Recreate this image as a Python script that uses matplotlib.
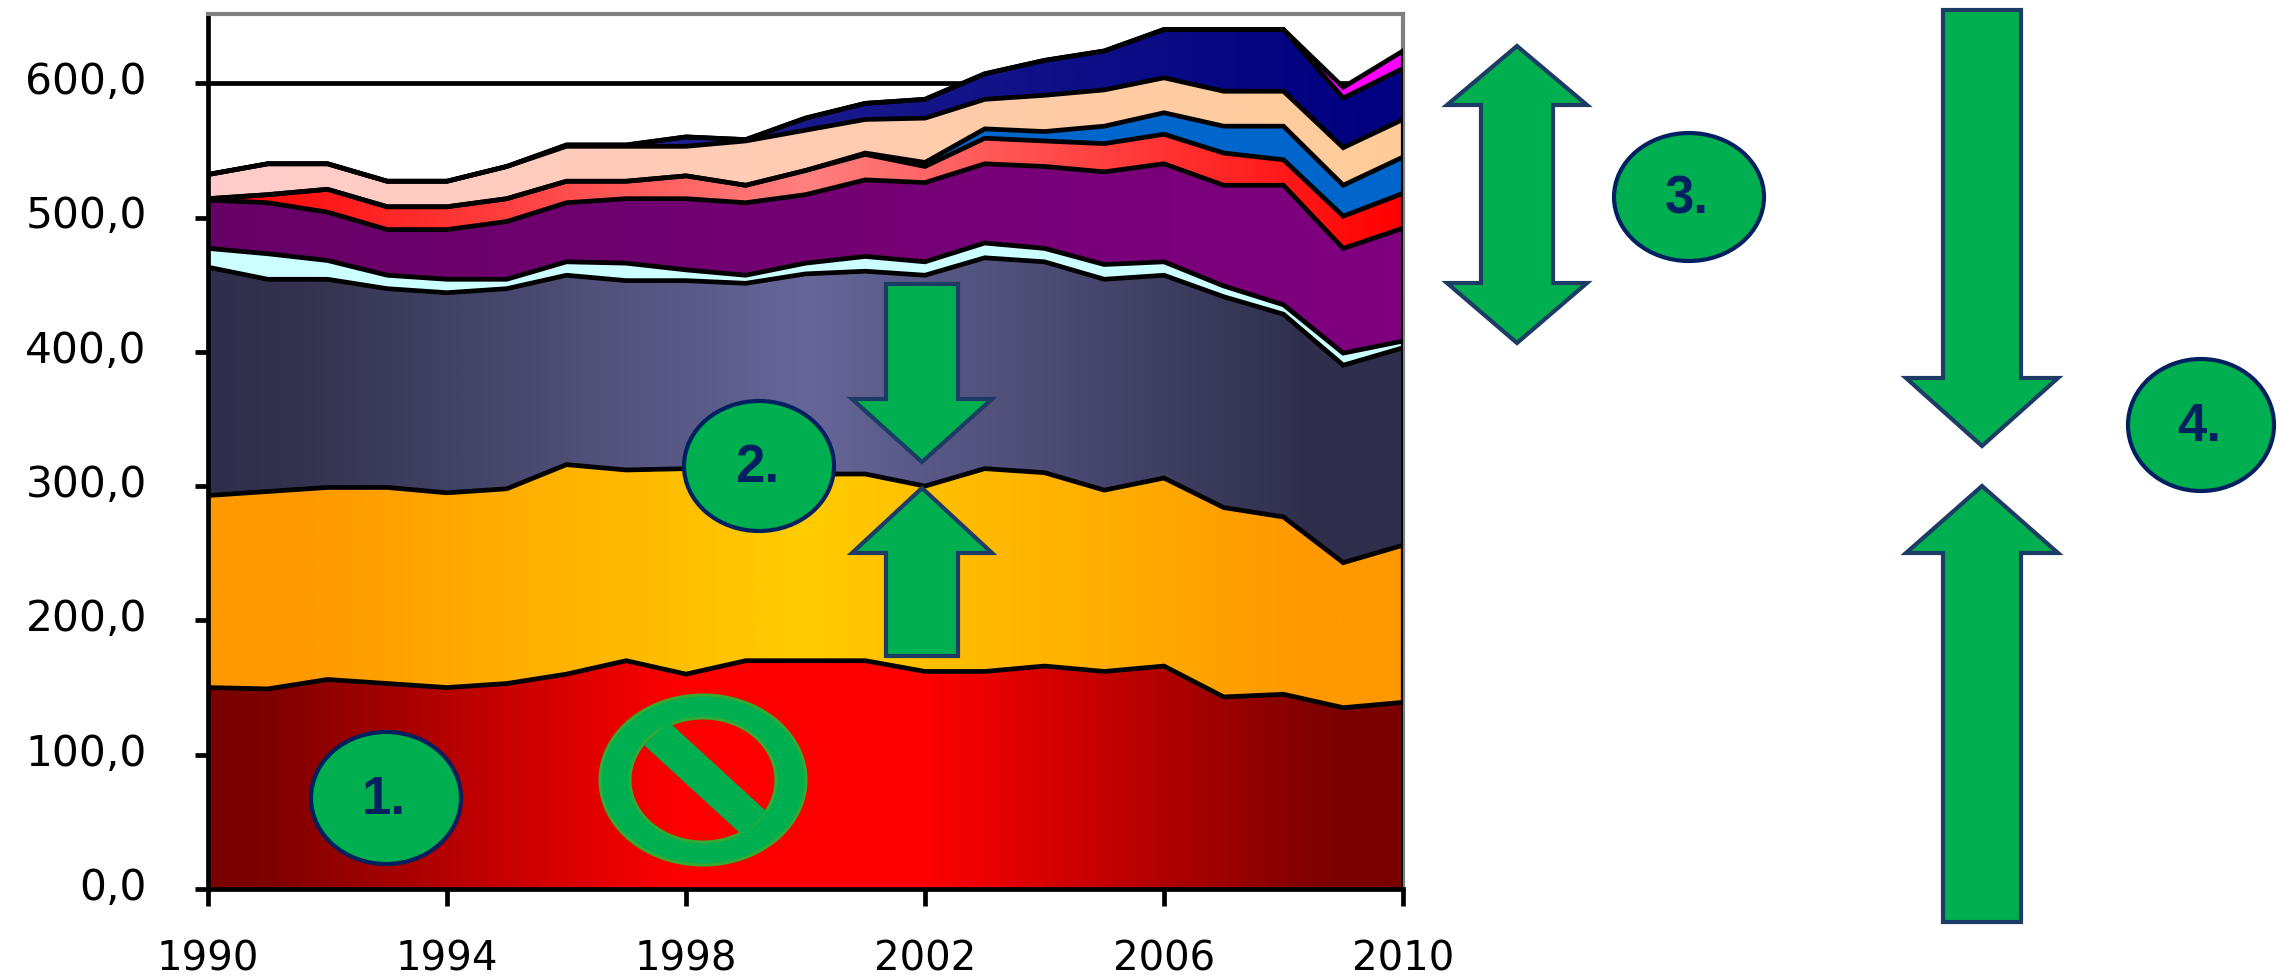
import numpy as np
import matplotlib
matplotlib.use("Agg")
import matplotlib.pyplot as plt
from matplotlib.colors import LinearSegmentedColormap
from matplotlib.patches import Ellipse, Polygon, PathPatch
from matplotlib.path import Path
from matplotlib.transforms import ScaledTranslation

years = list(range(1990, 2011))
year_ticks = [1990, 1994, 1998, 2002, 2006, 2010]
value_ticks = [0, 100, 200, 300, 400, 500, 600]

# upper boundary of every stacked band
top_red      = [150,149,156,153,150,153,160,170,160,170,170,170,162,162,166,162,166,143,145,135,139]
top_orange   = [293,296,299,299,295,298,316,312,313,310,309,309,300,313,310,297,306,284,277,243,256]
top_slate    = [463,454,454,447,444,447,457,453,453,451,458,460,457,470,467,454,457,441,428,390,403]
top_cyan     = [477,473,468,457,454,454,467,466,461,457,466,471,467,481,477,465,467,449,435,399,408]
top_purple   = [513,511,504,491,491,497,511,514,514,511,517,528,526,540,538,534,540,524,524,477,492]
top_scarlet  = [514,517,521,508,508,514,527,527,531,524,535,547,538,559,557,555,562,548,543,501,518]
top_blue     = [514,517,521,508,508,514,527,527,531,524,535,548,541,566,564,568,578,568,568,524,545]
top_peach    = [532,540,540,527,527,538,553,553,553,557,565,573,574,588,591,595,604,594,594,552,573]
top_navy     = [532,540,540,527,527,538,554,554,560,558,574,585,588,607,617,624,640,640,640,589,611]
top_magenta  = [532,540,540,527,527,538,554,554,560,558,574,585,588,607,617,624,640,640,640,597,624]

bands = [
    (top_red,     [(0, "#7a0000"), (0.05, "#7f0000"), (0.40, "#ff0000"), (0.60, "#ff0000"), (0.93, "#7f0000"), (1, "#7a0000")]),
    (top_orange,  [(0, "#ff9900"), (0.08, "#ff9900"), (0.5, "#ffcc00"), (0.92, "#ff9900"), (1, "#ff9900")]),
    (top_slate,   [(0, "#2f2f4d"), (0.08, "#33334f"), (0.5, "#666699"), (0.92, "#2f2f4d"), (1, "#2f2f4d")]),
    (top_cyan,    [(0, "#ccffff"), (1, "#ccffff")]),
    (top_purple,  [(0, "#660066"), (1, "#800080")]),
    (top_scarlet, [(0, "#ff0000"), (0.5, "#ff8080"), (1, "#ff0000")]),
    (top_blue,    [(0, "#0066cc"), (1, "#0066cc")]),
    (top_peach,   [(0, "#ffcccc"), (1, "#ffcc99")]),
    (top_navy,    [(0, "#333399"), (1, "#000080")]),
    (top_magenta, [(0, "#ff00ff"), (1, "#ff00ff")]),
]

W, H = 2277, 976
fig = plt.figure(figsize=(W / 100, H / 100), dpi=100)
ax = fig.add_axes([208 / W, (H - 889) / H, 1195 / W, 875 / H])

YMAX = 875 / 1.343
ax.axhline(600, color="black", lw=3.4, zorder=1)

lower = [0] * len(years)
grad = np.linspace(0, 1, 512)[None, :]
for upper, stops in bands:
    cmap = LinearSegmentedColormap.from_list("g", stops)
    poly = ax.fill_between(years, lower, upper, facecolor="none", edgecolor="none", zorder=2)
    im = ax.imshow(grad, cmap=cmap, extent=(1990, 2010, 0, YMAX), aspect="auto", zorder=2,
                   interpolation="bilinear")
    im.set_clip_path(poly.get_paths()[0], transform=ax.transData)
    lower = upper
for upper, _ in bands:
    ax.plot(years, upper, color="black", lw=3.4, zorder=3, solid_joinstyle="miter")
ax.plot([2010, 2010], [0, top_magenta[-1]], color="black", lw=3.0, zorder=3)

ax.set_xlim(1990, 2010)
ax.set_ylim(0, YMAX)
ax.set_xticks(year_ticks)
ax.set_xticklabels([str(y) for y in year_ticks])
ax.set_yticks(value_ticks)
ax.set_yticklabels([f"{v:.1f}".replace(".", ",") for v in value_ticks])
ax.tick_params(axis="x", length=12, width=3.4, pad=24.5, labelsize=29, color="black")
ax.tick_params(axis="y", length=9.5, width=3.4, pad=34.5, labelsize=30.5, color="black")
up = ScaledTranslation(0, 4 / 72, fig.dpi_scale_trans)
for lab in ax.get_yticklabels():
    lab.set_transform(lab.get_transform() + up)
for s in ("left", "bottom"):
    ax.spines[s].set_color("black")
    ax.spines[s].set_linewidth(3.4)
for s in ("top", "right"):
    ax.spines[s].set_color("#808080")
    ax.spines[s].set_linewidth(3.0)

# overlay in pixel coordinates for the annotation shapes
ov = fig.add_axes([0, 0, 1, 1], facecolor="none")
ov.set_xlim(0, W)
ov.set_ylim(H, 0)
ov.axis("off")

GREEN = "#00b050"
NAVY = "#002060"
EDGE = "#1c3c66"


def badge(cx, cy, rx, ry, label):
    ov.add_patch(Ellipse((cx, cy), 2 * rx, 2 * ry, fc=GREEN, ec=NAVY, lw=3.0))
    ov.text(cx - 2, cy + 2, label, color=NAVY, fontsize=38, fontweight="bold",
            family="Liberation Sans", ha="center", va="center")


def down_arrow(cx, top, neck, tip, half_shaft, half_head):
    pts = [(cx - half_shaft, top), (cx + half_shaft, top), (cx + half_shaft, neck),
           (cx + half_head, neck), (cx, tip), (cx - half_head, neck), (cx - half_shaft, neck)]
    ov.add_patch(Polygon(pts, closed=True, fc=GREEN, ec=EDGE, lw=3.0, joinstyle="miter"))


# badges
badge(386, 798, 75, 66, "1.")
badge(759, 466, 75, 65, "2.")
badge(1689, 197, 75, 64, "3.")
badge(2201, 425, 73, 66, "4.")

# arrows 2
down_arrow(922, 284, 399, 462, 36, 70)
down_arrow(922, 656, 553, 488, 36, 70)

# double arrow 3
cx3 = 1517
pts3 = [(cx3, 46), (cx3 + 70, 105), (cx3 + 36, 105), (cx3 + 36, 283), (cx3 + 70, 283), (cx3, 343),
        (cx3 - 70, 283), (cx3 - 36, 283), (cx3 - 36, 105), (cx3 - 70, 105)]
ov.add_patch(Polygon(pts3, closed=True, fc=GREEN, ec=EDGE, lw=3.0, joinstyle="miter"))

# arrows 4
down_arrow(1982, 10, 378, 446, 39, 76)
down_arrow(1982, 922, 553, 486, 39, 76)

# no-entry sign
cx, cy, rx, ry = 703, 780, 103, 85
t = np.linspace(0, 2 * np.pi, 160)
ring_o = np.c_[cx + rx * np.cos(t), cy + ry * np.sin(t)]
ring_i = np.c_[cx + (rx - 30) * np.cos(t[::-1]), cy + (ry - 23) * np.sin(t[::-1])]
verts = np.r_[ring_o, ring_i]
codes = [Path.MOVETO] + [Path.LINETO] * (len(ring_o) - 1) + [Path.MOVETO] + [Path.LINETO] * (len(ring_i) - 1)
ov.add_patch(PathPatch(Path(verts, codes), fc=GREEN, ec="#33aa33", lw=2.2))
ov.add_patch(Polygon([(646, 745), (669, 724), (765, 812), (743, 834)], closed=True,
                     fc=GREEN, ec=GREEN, lw=2))

fig.savefig("out.png", dpi=100, facecolor="white")
